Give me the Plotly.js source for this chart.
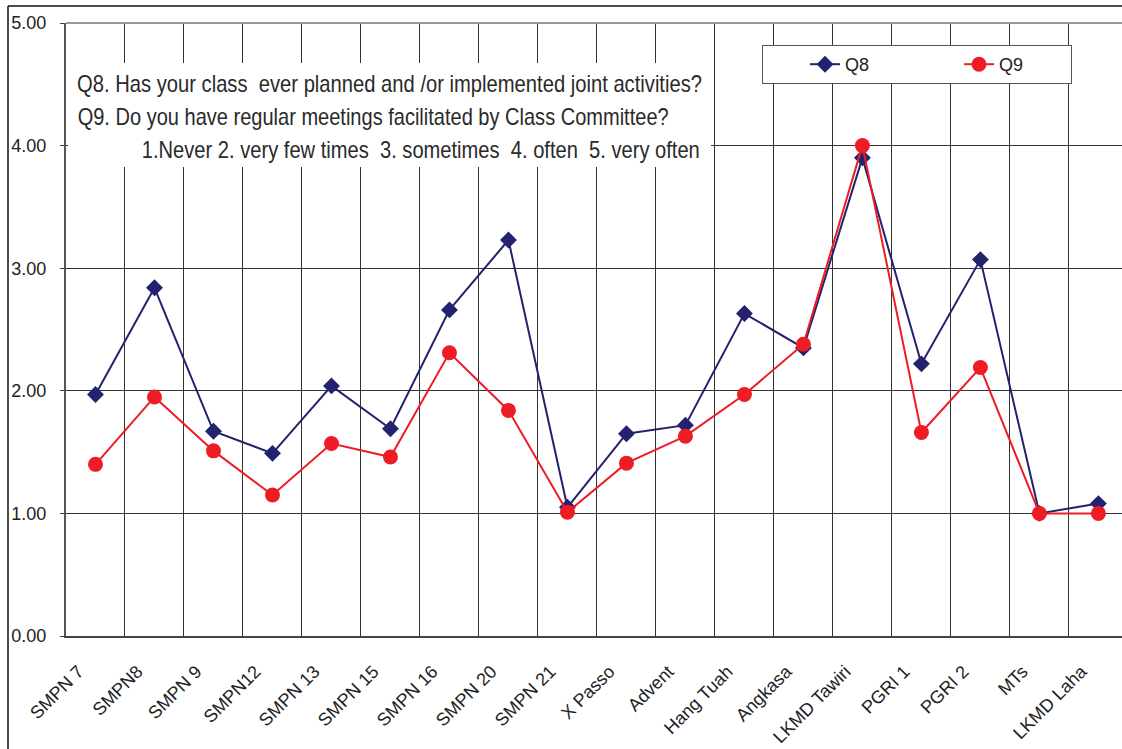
<!DOCTYPE html>
<html>
<head>
<meta charset="utf-8">
<script src="https://cdn.plot.ly/plotly-3.0.1.min.js"></script>
<style>
html,body{margin:0;padding:0;background:#fff;overflow:hidden;}
#chart{width:1122px;height:749px;}
</style>
</head>
<body>
<div id="chart"></div>
<script>
var categories = ["SMPN 7","SMPN8","SMPN 9","SMPN12","SMPN 13","SMPN 15","SMPN 16","SMPN 20","SMPN 21","X Passo","Advent","Hang Tuah","Angkasa","LKMD Tawiri","PGRI 1","PGRI 2","MTs","LKMD Laha"];
var q8 = [1.97,2.84,1.67,1.49,2.04,1.69,2.66,3.23,1.05,1.65,1.72,2.63,2.35,3.90,2.22,3.07,1.00,1.08];
var q9 = [1.40,1.95,1.51,1.15,1.57,1.46,2.31,1.84,1.01,1.41,1.63,1.97,2.38,4.00,1.66,2.19,1.00,1.00];
var yTickVals = [0,1,2,3,4,5];
var yTickText = ["0.00","1.00","2.00","3.00","4.00","5.00"];
var noteLines = [
  "Q8. Has your class  ever planned and /or implemented joint activities?",
  "Q9. Do you have regular meetings facilitated by Class Committee?",
  "1.Never 2. very few times  3. sometimes  4. often  5. very often"
];

var navy = "#22226e", red = "#ee1c25";
var traces = [
  {x: categories, y: q8, name: "Q8", type: "scatter", mode: "lines+markers",
   line: {color: navy, width: 2}, marker: {symbol: "diamond", size: 13, color: navy}},
  {x: categories, y: q9, name: "Q9", type: "scatter", mode: "lines+markers",
   line: {color: red, width: 2}, marker: {symbol: "circle", size: 15, color: red}}
];

var W = 1056, H = 613, L = 66, T = 23;
function px(x){ return (x - L) / W; }
function py(y){ return (T + H - y) / H; }

var noteFont = {family: "'Liberation Sans', Arial, sans-serif", size: 24, color: "#2a2a2a"};
// [left, right, centre y] of each note line, in pixels
var noteBoxes = [[77, 702, 83], [77, 668, 117], [142, 700, 150]];

var annotations = noteLines.map(function(t, i){
  var b = noteBoxes[i];
  return {xref: "paper", yref: "paper", x: px((b[0] + b[1]) / 2), y: py(b[2]),
          xanchor: "center", yanchor: "middle", text: t, showarrow: false, font: noteFont};
});

var layout = {
  width: 1122, height: 749,
  margin: {l: L, r: 0, t: T, b: 749 - T - H, pad: 0},
  paper_bgcolor: "#fff", plot_bgcolor: "#fff",
  font: {family: "'Liberation Sans', Arial, sans-serif", size: 18, color: "#222"},
  showlegend: true,
  legend: {orientation: "h", x: px(762), xanchor: "left", y: py(45), yanchor: "top",
           bgcolor: "#fff", bordercolor: "#555", borderwidth: 1,
           font: {size: 18, color: "#222"}, indentation: 42,
           entrywidth: 67, entrywidthmode: "pixels"},
  xaxis: {type: "category", range: [-0.5, 17.4], tickson: "boundaries",
          showgrid: true, gridcolor: "#333", gridwidth: 1,
          showline: true, linecolor: "#444", linewidth: 2,
          ticks: "", tickangle: -45, tickfont: {size: 18, color: "#222"},
          ticklabelstandoff: 16, ticklabelshift: -17, fixedrange: true},
  yaxis: {range: [0, 5], tickvals: yTickVals, ticktext: yTickText,
          showgrid: true, gridcolor: "#333", gridwidth: 1, zeroline: false,
          showline: true, linecolor: "#555", linewidth: 2,
          ticks: "outside", ticklen: 4, tickcolor: "#444",
          tickfont: {size: 18, color: "#222"}, ticklabelstandoff: 10, fixedrange: true},
  shapes: [
    {type: "line", xref: "paper", yref: "paper", x0: px(8), x1: 1.0, y0: py(6), y1: py(6), line: {color: "#111", width: 1.5}},
    {type: "line", xref: "paper", yref: "paper", x0: px(8), x1: px(8), y0: py(6), y1: py(749), line: {color: "#111", width: 1.5}},
    {type: "line", xref: "paper", yref: "paper", x0: 0, x1: 1, y0: 1, y1: 1, line: {color: "#999", width: 2}, layer: "above"},
    {type: "rect", xref: "paper", yref: "paper", x0: px(68), x1: px(711), y0: py(167), y1: py(63), fillcolor: "#fff", line: {width: 0}, layer: "above"}
  ],
  annotations: annotations
};

Plotly.newPlot("chart", traces, layout, {displayModeBar: false, staticPlot: true}).then(function(gd){
  // condense the note text to the narrow face used in the original
  var els = gd.querySelectorAll(".annotation-text");
  els.forEach(function(el, i){
    var b = noteBoxes[i];
    if(!b) return;
    el.setAttribute("textLength", b[1] - b[0]);
    el.setAttribute("lengthAdjust", "spacingAndGlyphs");
  });
});
</script>
</body>
</html>
